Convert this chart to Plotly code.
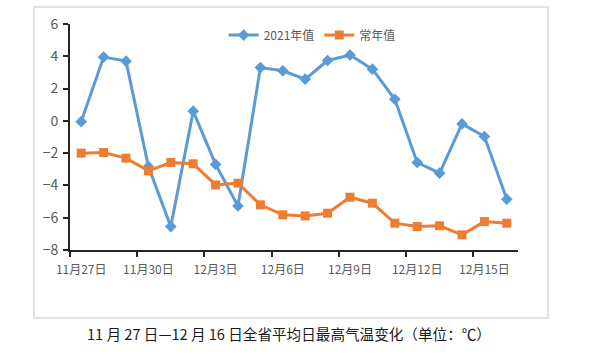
import plotly.graph_objects as go

categories = ["11月27日", "11月28日", "11月29日", "11月30日", "12月1日", "12月2日", "12月3日",
              "12月4日", "12月5日", "12月6日", "12月7日", "12月8日", "12月9日", "12月10日",
              "12月11日", "12月12日", "12月13日", "12月14日", "12月15日", "12月16日"]
values_2021 = [-0.05, 3.95, 3.7, -2.83, -6.55, 0.6, -2.7, -5.27, 3.3, 3.1,
               2.58, 3.74, 4.08, 3.2, 1.34, -2.58, -3.24, -0.19, -0.97, -4.85]
values_normal = [-2.0, -1.96, -2.31, -3.1, -2.58, -2.66, -3.97, -3.86, -5.2, -5.82,
                 -5.89, -5.72, -4.73, -5.1, -6.34, -6.55, -6.5, -7.06, -6.24, -6.34]
label_idx = [0, 3, 6, 9, 12, 15, 18]
tick_labels = [categories[i] for i in label_idx]
y_ticks = [6, 4, 2, 0, -2, -4, -6, -8]

xs = [i + 0.5 for i in range(len(categories))]

BLUE = "#5b9bd5"
ORANGE = "#ed7d31"
FONT = "Noto Sans CJK SC"

fig = go.Figure()
fig.add_trace(go.Scatter(
    x=xs, y=values_2021, name="2021年值", mode="lines+markers",
    line=dict(color=BLUE, width=3),
    marker=dict(symbol="diamond", size=9, color=BLUE),
    customdata=categories,
))
fig.add_trace(go.Scatter(
    x=xs, y=values_normal, name="常年值", mode="lines+markers",
    line=dict(color=ORANGE, width=3),
    marker=dict(symbol="square", size=9, color=ORANGE),
    customdata=categories,
))

fig.update_layout(
    width=600, height=358,
    margin=dict(l=70, r=82, t=24, b=108, autoexpand=False),
    paper_bgcolor="white", plot_bgcolor="white",
    font=dict(family=FONT, size=12, color="#595959"),
    showlegend=True,
    legend=dict(orientation="h", x=0.343, y=0.951, xanchor="left", yanchor="middle",
                font=dict(size=12, color="#595959"), bgcolor="rgba(0,0,0,0)",
                itemwidth=30, tracegroupgap=0),
    xaxis=dict(
        range=[0, len(categories)], showgrid=False, zeroline=False,
        showline=True, linecolor="#262626", linewidth=2,
        tickmode="array", tickvals=[i + 0.5 for i in label_idx], ticktext=tick_labels,
        ticks="", ticklabelstandoff=8, tickfont=dict(size=12, color="#595959"),
        minor=dict(tickmode="array", tickvals=label_idx, ticks="outside",
                   ticklen=5, tickcolor="#262626", tickwidth=2, showgrid=False),
    ),
    yaxis=dict(
        range=[-8, 6], showgrid=False, zeroline=False,
        showline=True, linecolor="#262626", linewidth=2,
        tickmode="array", tickvals=y_ticks,
        ticks="outside", ticklen=5, tickcolor="#262626", tickwidth=2,
        ticklabelstandoff=2,
        tickfont=dict(size=14, color="#595959"),
    ),
)

# outer light frame
fig.add_shape(type="rect", xref="paper", yref="paper",
              x0=(34 - 70) / 448, x1=(548 - 70) / 448,
              y0=(250 - 318) / 226, y1=(250 - 7) / 226,
              line=dict(color="#d9d9d9", width=1.5), fillcolor="rgba(0,0,0,0)", layer="below")

fig.add_annotation(
    text="11 月 27 日—12 月 16 日全省平均日最高气温变化（单位：℃）",
    xref="paper", yref="paper", x=(289 - 70) / 448, y=(250 - 333) / 226,
    xanchor="center", yanchor="middle", showarrow=False,
    font=dict(family=FONT, size=14.6, color="#1a1a1a"),
)

fig.write_html("out.html", config={"displayModeBar": False},
               post_script="document.body.style.margin='0';")
